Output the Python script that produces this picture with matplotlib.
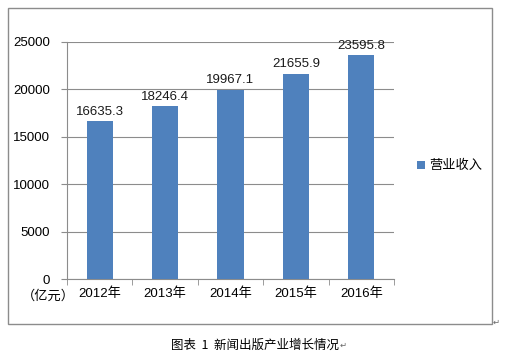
import matplotlib
matplotlib.use("Agg")
import matplotlib.pyplot as plt
from matplotlib.patches import Rectangle

plt.rcParams['font.family'] = ['Liberation Sans', 'Noto Sans CJK SC', 'DejaVu Sans']

years = ['2012年', '2013年', '2014年', '2015年', '2016年']
revenue = [16635.3, 18246.4, 19967.1, 21655.9, 23595.8]
series_name = '营业收入'
y_ticks = [0, 5000, 10000, 15000, 20000, 25000]
unit_label = '（亿元）'
caption = '图表  1  新闻出版产业增长情况'

W, H = 505, 363
fig = plt.figure(figsize=(W / 100, H / 100), dpi=100)

# outer chart frame
fig.patches.append(Rectangle((8 / W, 1 - 324 / H), 484 / W, 316 / H,
                             transform=fig.transFigure, fill=False,
                             edgecolor='#8c8c8c', linewidth=1.0))

ax = fig.add_axes([67 / W, 1 - 279 / H, 327 / W, 237 / H])
x = range(len(years))
ax.bar(x, revenue, width=0.4, color='#4f81bd', label=series_name, zorder=3)
for xi, v in zip(x, revenue):
    ax.text(xi, v + 350, f'{v:.1f}', ha='center', va='bottom', fontsize=9.5, color='#1a1a1a')

ax.set_xlim(-0.5, len(years) - 0.5)
ax.set_ylim(0, 25000)
ax.set_yticks(y_ticks)
ax.set_yticklabels([str(t) for t in y_ticks], fontsize=9.5)
ax.yaxis.grid(True, color='#8c8c8c', linewidth=0.8, zorder=0)
ax.tick_params(axis='y', length=4, color='#8c8c8c', pad=8)
ax.set_xticks(list(x))
ax.set_xticklabels(years, fontsize=9.5)
ax.set_xticks([i - 0.5 for i in range(len(years) + 1)], minor=True)
ax.tick_params(axis='x', which='major', length=0, pad=6)
ax.tick_params(axis='x', which='minor', length=4, color='#8c8c8c', direction='out')
for s in ['top', 'right']:
    ax.spines[s].set_visible(False)
ax.spines['left'].set_color('#8c8c8c')
ax.spines['bottom'].set_color('#8c8c8c')

fig.text(22 / W, 1 - 296 / H, unit_label, fontsize=9.5, va='center', ha='left',
         family=['Noto Sans CJK SC', 'DejaVu Sans'])

ax.legend(loc='center left', bbox_to_anchor=(405 / W, 1 - 166 / H),
          bbox_transform=fig.transFigure, frameon=False, handlelength=0.6,
          handleheight=0.6, handletextpad=0.3,
          prop={'family': 'Noto Sans CJK SC', 'size': 9.5})

fig.text(255 / W, 1 - 345 / H, caption, fontsize=9, ha='center', va='center',
         family=['Noto Sans CJK SC', 'DejaVu Sans'])
fig.text(496 / W, 1 - 322 / H, '↵', fontsize=6, ha='center', va='center', color='#666666',
         family='DejaVu Sans')
fig.text(343 / W, 1 - 345 / H, '↵', fontsize=6, ha='center', va='center', color='#666666',
         family='DejaVu Sans')

fig.savefig('out.png', dpi=100)
